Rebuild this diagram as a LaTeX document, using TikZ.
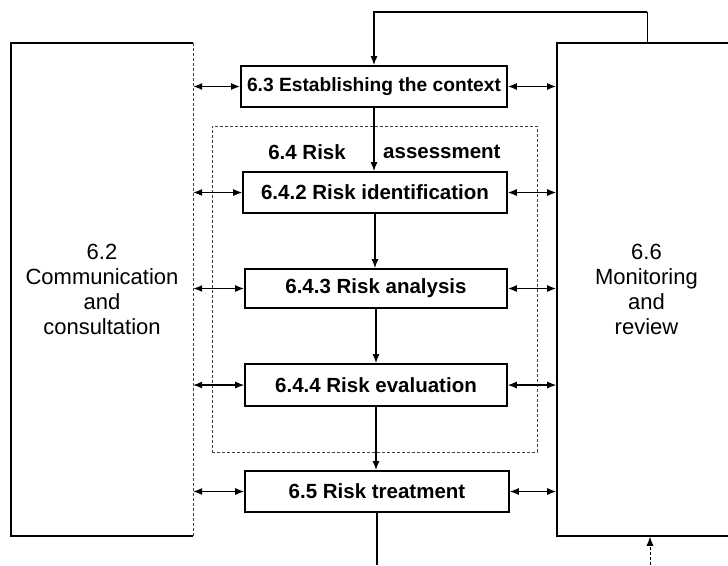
\documentclass[tikz,border=0pt]{standalone}
\usepackage{fontspec}
\setmainfont{Liberation Sans}
\usetikzlibrary{arrows.meta}
\begin{document}
\begin{tikzpicture}[x=1pt,y=-1pt,
  procbox/.style={draw,line width=1.6pt,minimum width=264pt,minimum height=41pt,inner sep=0pt,font=\fontsize{20.5}{23}\selectfont\bfseries},
  sidebox/.style={inner sep=0pt,align=center,font=\fontsize{22}{25}\selectfont},
  flow/.style={line width=1.4pt,-{Latex[length=9pt,width=7pt]}},
  sidearrow/.style={line width=1.1pt,{Latex[length=9pt,width=7pt]}-{Latex[length=9pt,width=7pt]}},
  sidearrowbold/.style={line width=1.6pt,{Latex[length=9pt,width=7pt]}-{Latex[length=9pt,width=7pt]}},
  faint/.style={line width=0.7pt,densely dashed,black!75}
]
\useasboundingbox (0,0) rectangle (728,565);
\clip (0,0) rectangle (728,565);
% side boxes
\node[sidebox,minimum width=182pt,minimum height=493pt] (comm) at (102,289.5) {6.2\\Communication\\and\\consultation};
\draw[line width=1.6pt] (comm.north east) -- (comm.north west) -- (comm.south west) -- (comm.south east);
\draw[faint] (comm.north east) -- (comm.south east);
\node[sidebox,draw,line width=1.6pt,minimum width=179pt,minimum height=493pt] (mon) at (646.5,289.5) {6.6\\Monitoring\\and\\review};
% assessment frame
\node[faint,draw,minimum width=325pt,minimum height=326pt,inner sep=0pt] (assess) at (374.5,289) {};
\node[font=\fontsize{20.5}{23}\selectfont\bfseries,anchor=east,inner sep=0pt] (alabA) at (346,152) {6.4 Risk};
\node[font=\fontsize{20.5}{23}\selectfont\bfseries,anchor=west,inner sep=0pt] (alabB) at (383,152) {assessment};
% process boxes
\node[procbox,minimum width=266pt,font=\fontsize{19.2}{22}\selectfont\bfseries] (ctx) at (374,86.5) {6.3 Establishing the context};
\node[procbox] (ident) at (375,192.5) {6.4.2 Risk identification};
\node[procbox,minimum width=262pt,minimum height=39pt] (anal) at (376,288.5) {6.4.3 Risk analysis};
\node[procbox,minimum width=262pt,minimum height=42pt] (eval) at (376,385) {6.4.4 Risk evaluation};
\node[procbox] (treat) at (377,491.5) {6.5 Risk treatment};
% vertical flow
\draw[flow] (ctx.south) -- (ctx.south |- ident.north);
\draw[flow] (ident.south) -- (ident.south |- anal.north);
\draw[flow] (anal.south) -- (anal.south |- eval.north);
\draw[flow] (eval.south) -- (eval.south |- treat.north);
\coordinate (botend) at (377,565);
\draw[line width=1.4pt] (treat.south) -- (botend);
% feedback loop on top
\coordinate (fbA) at (647,43);
\coordinate (fbB) at (647,12);
\draw[line width=0.8pt] (fbA) -- (fbB);
\draw[flow] (fbB) -| (ctx.north);
% bottom up arrow
\coordinate (upend) at (650,565);
\draw[line width=0.8pt,densely dashed,-{Latex[length=9pt,width=7pt]}] (upend) -- (upend |- mon.south);
% side arrows
\draw[sidearrowbold] (comm.east |- ctx) -- (ctx.west);
\draw[sidearrowbold] (ctx.east) -- (mon.west |- ctx);
\draw[sidearrow] (comm.east |- ident) -- (ident.west);
\draw[sidearrow] (ident.east) -- (mon.west |- ident);
\draw[sidearrowbold] (comm.east |- anal) -- (anal.west);
\draw[sidearrowbold] (anal.east) -- (mon.west |- anal);
\draw[sidearrow] (comm.east |- eval) -- (eval.west);
\draw[sidearrow] (eval.east) -- (mon.west |- eval);
\draw[sidearrow] (comm.east |- treat) -- (treat.west);
\draw[sidearrow] (treat.east) -- (mon.west |- treat);
\end{tikzpicture}
\end{document}
